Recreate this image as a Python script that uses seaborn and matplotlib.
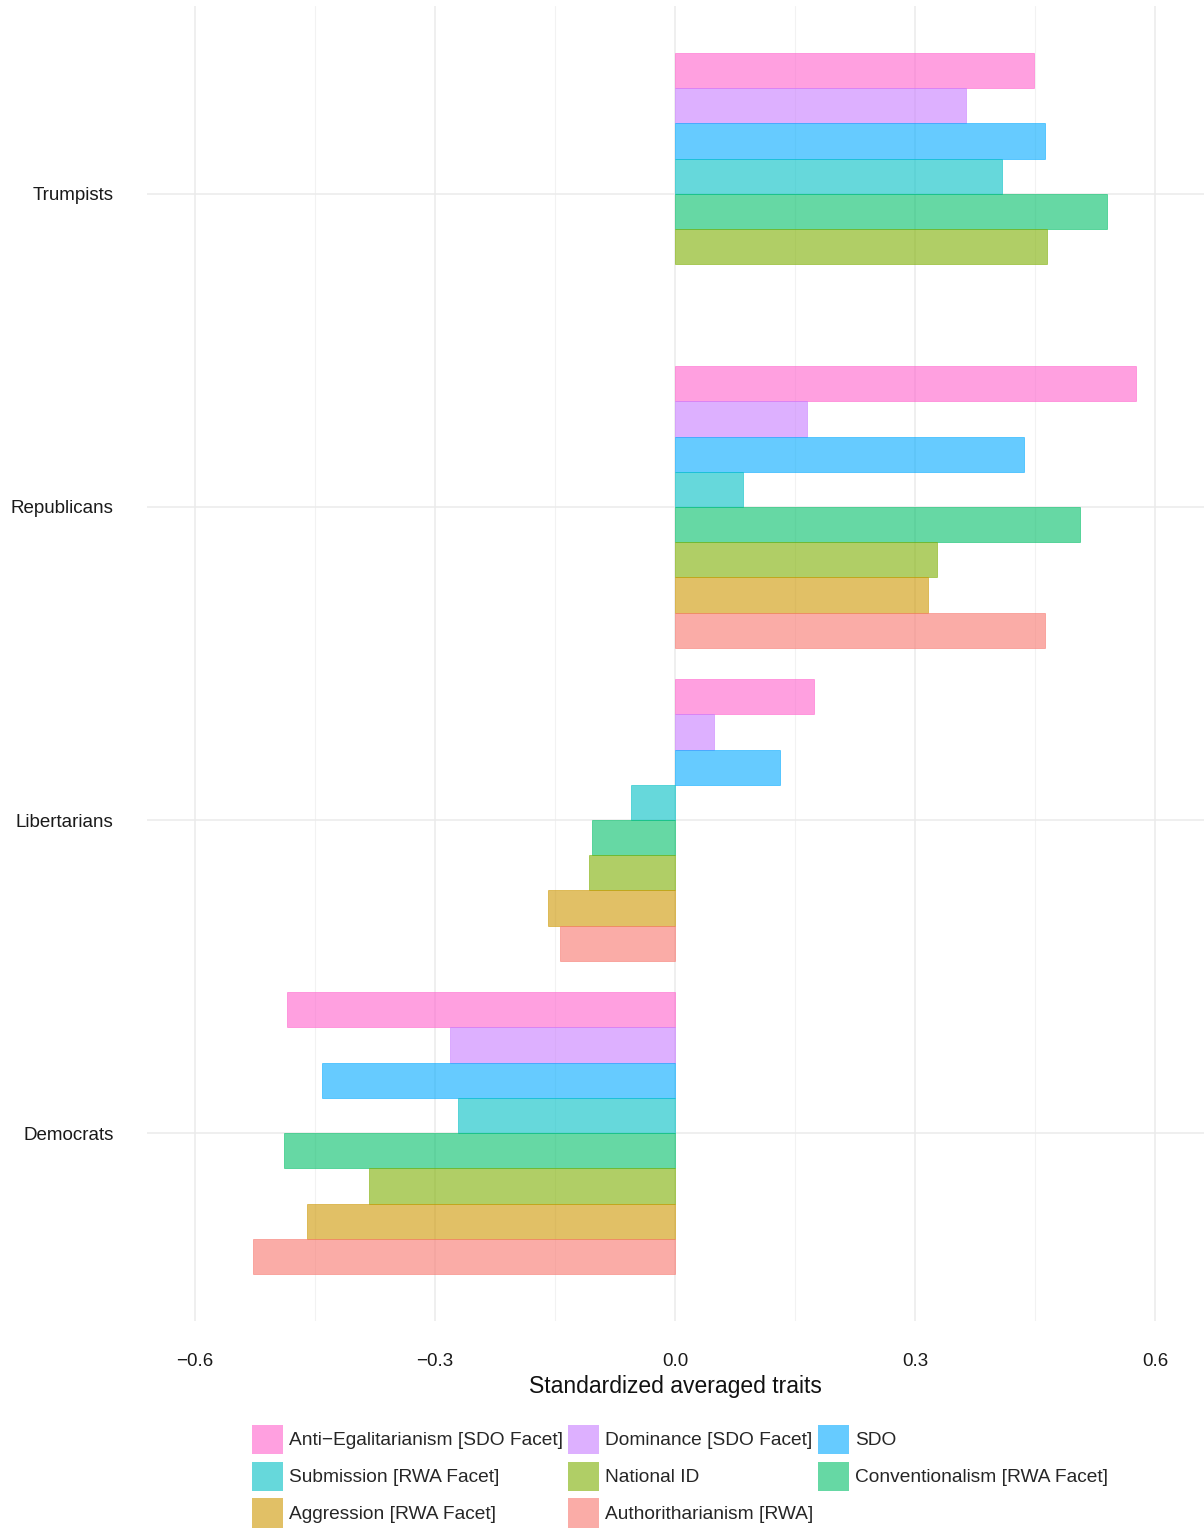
import numpy as np
import pandas as pd
import matplotlib

matplotlib.use("Agg", force=True)
import matplotlib.pyplot as plt
from matplotlib.patches import Patch
from matplotlib.ticker import MultipleLocator
import seaborn as sns

groups = ["Trumpists", "Republicans", "Libertarians", "Democrats"]

# bar order inside each group, top to bottom
traits = [
    "Anti\u2212Egalitarianism [SDO Facet]",
    "Dominance [SDO Facet]",
    "SDO",
    "Submission [RWA Facet]",
    "Conventionalism [RWA Facet]",
    "National ID",
    "Aggression [RWA Facet]",
    "Authoritharianism [RWA]",
]
trait_colors = ["#FF61CC", "#C77CFF", "#00A9FF", "#00BFC4", "#00BE67", "#7CAE00", "#CD9600", "#F8766D"]

# legend order (row by row)
legend_order = [0, 1, 2, 3, 5, 4, 6, 7]

# values per trait, in the order of `groups`
anti_egalitarianism = [0.448, 0.576, 0.174, -0.485]
dominance = [0.364, 0.165, 0.049, -0.281]
sdo = [0.462, 0.436, 0.131, -0.441]
submission = [0.409, 0.085, -0.055, -0.271]
conventionalism = [0.540, 0.506, -0.104, -0.489]
national_id = [0.465, 0.327, -0.107, -0.382]
aggression = [np.nan, 0.316, -0.159, -0.460]
authoritarianism = [np.nan, 0.462, -0.144, -0.527]

series = [anti_egalitarianism, dominance, sdo, submission,
          conventionalism, national_id, aggression, authoritarianism]

rows = []
for trait, vals in zip(traits, series):
    for grp, v in zip(groups, vals):
        if not np.isnan(v):
            rows.append({"group": grp, "trait": trait, "value": v})
df = pd.DataFrame(rows)

sns.set_theme(style="white")
plt.rcParams["font.family"] = ["Liberation Sans", "DejaVu Sans"]

fig = plt.figure(figsize=(12.04, 15.31), dpi=100)
ax = fig.add_axes([147 / 1204, 1 - 1321 / 1531, 1 - 147 / 1204, (1321 - 6) / 1531])

sns.barplot(
    data=df, x="value", y="group", hue="trait",
    order=groups, hue_order=traits, palette=trait_colors,
    orient="h", width=0.9, saturation=1, errorbar=None,
    legend=False, ax=ax,
)
for p in ax.patches:
    fc = p.get_facecolor()
    p.set_facecolor((fc[0], fc[1], fc[2], 0.6))
    p.set_edgecolor((fc[0], fc[1], fc[2], 0.6))
    p.set_linewidth(0.6)

ax.set_xlim(-0.66, 0.661)
ax.set_ylim(3.6, -0.6)
ax.xaxis.set_major_locator(MultipleLocator(0.3))
ax.xaxis.set_minor_locator(MultipleLocator(0.15))
ax.set_xticks([-0.6, -0.3, 0.0, 0.3, 0.6])
ax.set_xticklabels(["\u22120.6", "\u22120.3", "0.0", "0.3", "0.6"])

ax.set_axisbelow(True)
ax.grid(which="major", axis="both", color="#EBEBEB", linewidth=1.1)
ax.grid(which="minor", axis="x", color="#F2F2F2", linewidth=0.8)
for s in ax.spines.values():
    s.set_visible(False)
ax.tick_params(axis="both", which="both", length=0)
ax.tick_params(axis="y", pad=24, labelsize=13.5, labelcolor="#1a1a1a")
ax.tick_params(axis="x", pad=23, labelsize=13.5, labelcolor="#1a1a1a")
ax.set_ylabel("")
ax.set_xlabel("Standardized averaged traits", fontsize=16.5, color="#111111", labelpad=4)

handles = [Patch(facecolor=trait_colors[i], alpha=0.6, edgecolor="none") for i in legend_order]
labels = [traits[i] for i in legend_order]
# matplotlib fills legend column-wise; reorder so it reads row-wise
ncol = 3
nrow = int(np.ceil(len(handles) / ncol))
col_order = []
for c in range(ncol):
    for r in range(nrow):
        idx = r * ncol + c
        if idx < len(handles):
            col_order.append(idx)
fig.legend(
    [handles[i] for i in col_order], [labels[i] for i in col_order],
    loc="upper center", bbox_to_anchor=(680 / 1204, 1 - 1415 / 1531),
    ncol=ncol, frameon=False, fontsize=13.75, borderpad=0,
    handlelength=1.6, handleheight=2.0, handletextpad=0.3,
    columnspacing=0.3, labelspacing=0.39,
)

fig.savefig("out.png", dpi=100)
plt.close(fig)
